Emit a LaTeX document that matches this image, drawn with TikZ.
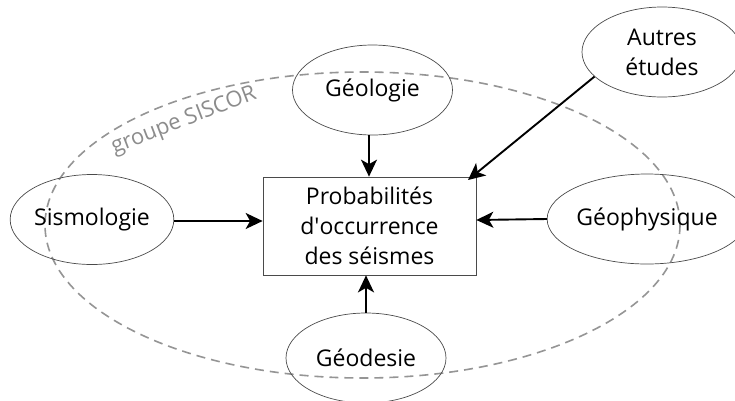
\documentclass[tikz,border=0pt]{standalone}
\usepackage{fontspec}
\setmainfont{Open Sans}
\usetikzlibrary{shapes.geometric,arrows.meta}
\definecolor{dashgray}{HTML}{959595}
\definecolor{labgray}{HTML}{8C8C8C}
\definecolor{edgegray}{HTML}{4A4A4A}
\tikzset{
  fieldnode/.style={ellipse, draw=edgegray, line width=0.7pt, inner sep=0pt,
    minimum width=160pt, minimum height=90pt, font=\fontsize{23}{30}\selectfont, align=center},
  centerbox/.style={rectangle, draw=edgegray, line width=0.7pt, inner sep=0pt,
    minimum width=213pt, minimum height=98pt, font=\fontsize{23}{30}\selectfont, align=center},
  feed/.style={line width=1.9pt, -{Stealth[length=17pt, width=16pt, inset=4.5pt]}},
  groupline/.style={draw=dashgray, line width=1.6pt, dash pattern=on 9pt off 6pt}
}
\begin{document}
\begin{tikzpicture}[x=1pt,y=-1pt]
\useasboundingbox (0,0) rectangle (735,400);
\fill[white] (0,0) rectangle (735,400);
% group boundary
\draw[groupline] (362.5,225) ellipse [x radius=317.5, y radius=153];
\node[text=labgray, font=\fontsize{22}{26}\selectfont, rotate=21, inner sep=0pt] (grp) at (184,121) {groupe SISCOR};
% nodes
\node[centerbox] (prob) at (369.5,226) {Probabilités\\d\textquotesingle occurrence\\des séismes};
\node[fieldnode] (geol) at (372.5,90) {Géologie};
\node[fieldnode] (autres) at (662,52) {Autres\\études};
\node[fieldnode] (sism) at (92,219.5) {Sismologie};
\node[fieldnode, minimum width=161pt] (geoph) at (647,219) {Géophysique};
\node[fieldnode] (geod) at (366,358) {Géodesie};
\coordinate (atip) at (468,180);
% connectors
\draw[feed] (geol.south -| 369,0) -- (prob.north -| 369,0);
\draw[feed] (sism.east |- 0,221) -- (prob.west |- 0,221);
\draw[feed] (geoph.west |- 0,219) -- (prob.east |- 0,220);
\draw[feed] (geod.north -| 366,0) -- (prob.south -| 366,0);
\draw[feed] (autres.200) -- (atip);
\end{tikzpicture}
\end{document}
